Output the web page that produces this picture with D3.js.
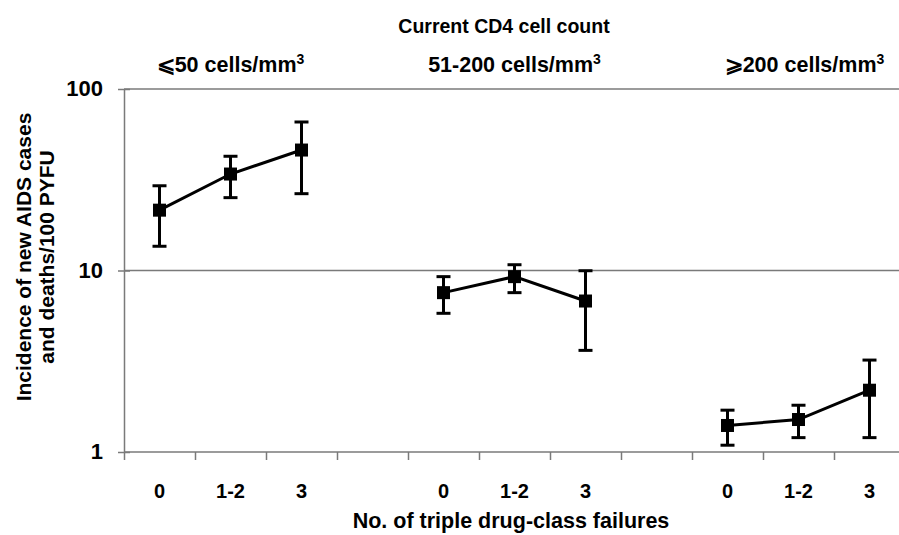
<!DOCTYPE html>
<html>
<head>
<meta charset="utf-8">
<script src="https://cdn.jsdelivr.net/npm/d3@7"></script>
<style>
  body { margin: 0; background: #fff; }
  svg { display: block; font-family: "Liberation Sans", Arial, sans-serif; font-weight: bold; }
</style>
</head>
<body>
<div id="chart"></div>
<script>
// CD4 strata and failure categories
var groups = ["⩽50 cells/mm", "51-200 cells/mm", "⩾200 cells/mm"];
var failures = ["0", "1-2", "3"];
var yTicks = [1, 10, 100];

// incidence per 100 PYFU, one array per CD4 stratum
var incidence = [[21.5, 34.0, 46.1], [7.55, 9.25, 6.79], [1.40, 1.51, 2.19]];
var lower = [[13.6, 25.2, 26.5], [5.81, 7.55, 3.63], [1.09, 1.20, 1.20]];
var upper = [[29.3, 42.6, 65.8], [9.25, 10.76, 9.97], [1.70, 1.81, 3.21]];

var width = 899, height = 535;
var svg = d3.select('#chart').append('svg')
  .attr('width', width).attr('height', height);

// 11 slots: 3 per group with one empty slot between groups
var x = d3.scaleLinear().domain([0, 11]).range([124, 905]);
var y = d3.scaleLog().domain([1, 100]).range([452, 89]);
var slot = function(g, i){ return g * 4 + i + 0.5; };

var grey = '#7a7a7a';

// gridlines
svg.append('g').selectAll('line').data([10, 100]).enter().append('line')
  .attr('x1', x(0)).attr('x2', width)
  .attr('y1', function(d){ return y(d); }).attr('y2', function(d){ return y(d); })
  .attr('stroke', grey).attr('stroke-width', 1.5);

// x axis
var xAxis = svg.append('g').attr('transform', 'translate(0,' + y(1) + ')')
  .call(d3.axisBottom(x).tickValues(d3.range(11)).tickFormat('').tickSizeInner(8).tickSizeOuter(0));
xAxis.select('.domain').attr('stroke', grey).attr('stroke-width', 1.5).attr('d', 'M' + x(0) + ',0H' + width);
xAxis.selectAll('.tick line').attr('stroke', grey).attr('stroke-width', 1.5);

// y axis
var yAxis = svg.append('g').attr('transform', 'translate(' + x(0) + ',0)')
  .call(d3.axisLeft(y).tickValues(yTicks).tickFormat(d3.format('d')).tickSizeInner(6).tickSizeOuter(0).tickPadding(15));
yAxis.select('.domain').attr('stroke', grey).attr('stroke-width', 1.5);
yAxis.selectAll('.tick line').attr('x1', 6).attr('stroke', grey).attr('stroke-width', 1.5);
yAxis.selectAll('.tick text').attr('fill', '#000').attr('dy', '0.3em').style('font-size', '22px')
  .style('font-family', '"Liberation Sans", Arial, sans-serif').style('font-weight', 'bold');

// category labels
var labels = [];
groups.forEach(function(g, gi){
  failures.forEach(function(f, fi){ labels.push({ t: f, x: x(slot(gi, fi)) }); });
});
svg.append('g').selectAll('text').data(labels).enter().append('text')
  .attr('x', function(d){ return d.x; }).attr('y', 498)
  .attr('text-anchor', 'middle').style('font-size', '20px')
  .text(function(d){ return d.t; });

svg.append('text').attr('x', 511).attr('y', 528).attr('text-anchor', 'middle')
  .style('font-size', '21.5px').text('No. of triple drug-class failures');

// headers
svg.append('text').attr('x', 504).attr('y', 33).attr('text-anchor', 'middle')
  .style('font-size', '19.5px').text('Current CD4 cell count');

var heads = svg.append('g').selectAll('text').data(groups).enter().append('text')
  .attr('x', function(d, i){ return x(slot(i, 1)) + (i === 2 ? 6 : 0); }).attr('y', 72)
  .attr('text-anchor', 'middle').style('font-size', '21.5px');
heads.append('tspan').text(function(d){ return d; });
heads.append('tspan').attr('dy', -8).style('font-size', '14px').text('3');

// y title
var yt = svg.append('text').attr('transform', 'translate(0,' + 257 + ') rotate(-90)')
  .attr('text-anchor', 'middle').style('font-size', '21px');
yt.append('tspan').attr('x', 0).attr('y', 31).text('Incidence of new AIDS cases');
yt.append('tspan').attr('x', 0).attr('y', 54).text('and deaths/100 PYFU');

// series
var line = d3.line().x(function(d){ return d.x; }).y(function(d){ return y(d.v); });
groups.forEach(function(g, gi){
  var pts = incidence[gi].map(function(v, i){
    return { x: x(slot(gi, i)), v: v, lo: lower[gi][i], hi: upper[gi][i] };
  });
  var s = svg.append('g');
  s.append('path').datum(pts).attr('d', line)
    .attr('fill', 'none').attr('stroke', '#000').attr('stroke-width', 3);
  var e = s.selectAll('.err').data(pts).enter().append('g').attr('class', 'err');
  e.append('line').attr('x1', function(d){ return d.x; }).attr('x2', function(d){ return d.x; })
    .attr('y1', function(d){ return y(d.lo); }).attr('y2', function(d){ return y(d.hi); })
    .attr('stroke', '#000').attr('stroke-width', 3);
  ['lo', 'hi'].forEach(function(k){
    e.append('line').attr('x1', function(d){ return d.x - 7; }).attr('x2', function(d){ return d.x + 7; })
      .attr('y1', function(d){ return y(d[k]); }).attr('y2', function(d){ return y(d[k]); })
      .attr('stroke', '#000').attr('stroke-width', 3);
  });
  s.selectAll('rect').data(pts).enter().append('rect')
    .attr('x', function(d){ return d.x - 6.5; }).attr('y', function(d){ return y(d.v) - 6.5; })
    .attr('width', 13).attr('height', 13).attr('fill', '#000');
});
</script>
</body>
</html>
